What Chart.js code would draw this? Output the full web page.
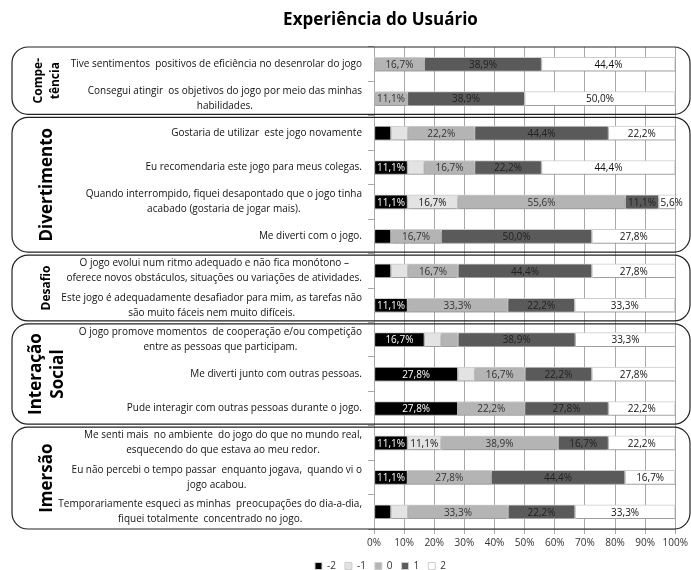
<!DOCTYPE html>
<html>
<head>
<meta charset="utf-8">
<script src="https://cdn.jsdelivr.net/npm/chart.js@4.4.1/dist/chart.umd.min.js"></script>
<style>
  body { margin: 0; background: #fff; }
  #wrap { width: 691px; height: 570px; }
</style>
</head>
<body>
<div id="wrap"><canvas id="chart" width="691" height="570"></canvas></div>
<script>
// perguntas (eixo y)
const categories = [
  ['Tive sentimentos  positivos de eficiência no desenrolar do jogo'],
  ['Consegui atingir  os objetivos do jogo por meio das minhas', 'habilidades.'],
  ['Gostaria de utilizar  este jogo novamente'],
  ['Eu recomendaria este jogo para meus colegas.'],
  ['Quando interrompido, fiquei desapontado que o jogo tinha', 'acabado (gostaria de jogar mais).'],
  ['Me diverti com o jogo.'],
  ['O jogo evolui num ritmo adequado e não fica monótono –', 'oferece novos obstáculos, situações ou variações de atividades.'],
  ['Este jogo é adequadamente desafiador para mim, as tarefas não', 'são muito fáceis nem muito difíceis.'],
  ['O jogo promove momentos  de cooperação e/ou competição', 'entre as pessoas que participam.'],
  ['Me diverti junto com outras pessoas.'],
  ['Pude interagir com outras pessoas durante o jogo.'],
  ['Me senti mais  no ambiente  do jogo do que no mundo real,', 'esquecendo do que estava ao meu redor.'],
  ['Eu não percebi o tempo passar  enquanto jogava,  quando vi o', 'jogo acabou.'],
  ['Temporariamente esqueci as minhas  preocupações do dia-a-dia,', 'fiquei totalmente  concentrado no jogo.']
];

// grupos (caixas à esquerda)
const groupNames = [['Compe-', 'tência'], ['Divertimento'], ['Desafio'], ['Interação', 'Social'], ['Imersão']];
const groupSizes = [2, 4, 2, 3, 3];

// séries (%)
const seriesNames = ['-2', '-1', '0', '1', '2'];
const serieM2 = [0, 0, 5.6, 11.1, 11.1, 5.6, 5.6, 11.1, 16.7, 27.8, 27.8, 11.1, 11.1, 5.6];
const serieM1 = [0, 0, 5.6, 5.6, 16.7, 0, 5.6, 0, 5.6, 5.6, 0, 11.1, 0, 5.6];
const serie0  = [16.7, 11.1, 22.2, 16.7, 55.6, 16.7, 16.7, 33.3, 5.6, 16.7, 22.2, 38.9, 27.8, 33.3];
const serie1  = [38.9, 38.9, 44.4, 22.2, 11.1, 50.0, 44.4, 22.2, 38.9, 22.2, 27.8, 16.7, 44.4, 22.2];
const serie2  = [44.4, 50.0, 22.2, 44.4, 5.6, 27.8, 27.8, 33.3, 33.3, 27.8, 22.2, 22.2, 16.7, 33.3];
const xTicks = [0, 10, 20, 30, 40, 50, 60, 70, 80, 90, 100];

const fills = ['#000000', '#e3e3e3', '#b4b4b4', '#5a5a5a', '#ffffff'];
const textColors = ['#ffffff', '#111111', '#333333', '#222222', '#111111'];
const sans = '"Open Sans", "Noto Sans", sans-serif';

const allSeries = [serieM2, serieM1, serie0, serie1, serie2];
const datasets = allSeries.map((s, i) => ({
  label: seriesNames[i],
  data: s,
  backgroundColor: fills[i],
  borderColor: '#cdcdcd',
  borderWidth: 1,
  borderSkipped: false,
  barThickness: 14
}));

// borda entre duas linhas
function boundary(y, i) {
  if (i <= 0) return y.top;
  if (i >= categories.length) return y.bottom;
  return (y.getPixelForValue(i - 1) + y.getPixelForValue(i)) / 2;
}

const decorPlugin = {
  id: 'decor',
  beforeDatasetsDraw(chart) {
    const ctx = chart.ctx;
    ctx.save();
    ctx.shadowColor = 'rgba(0,0,0,0.25)';
    ctx.shadowOffsetY = 2;
    ctx.shadowBlur = 2;
  },
  afterDatasetsDraw(chart) {
    const ctx = chart.ctx;
    ctx.restore();
    // rótulos dos valores
    ctx.save();
    ctx.font = '10px ' + sans;
    ctx.textAlign = 'center';
    ctx.textBaseline = 'middle';
    chart.data.datasets.forEach((ds, di) => {
      chart.getDatasetMeta(di).data.forEach((bar, i) => {
        const v = ds.data[i];
        if (!(v >= 10 || (di === 4 && v > 0))) return;
        ctx.fillStyle = textColors[di];
        const txt = v.toFixed(1).replace('.', ',') + '%';
        // o rótulo pequeno fica logo depois do fim da barra anterior
        const cx = v < 10 ? bar.base + 13 : (bar.x + bar.base) / 2;
        ctx.fillText(txt, cx, bar.y + 1);
      });
    });
    ctx.restore();
  },
  afterDraw(chart) {
    const ctx = chart.ctx;
    const y = chart.scales.y;
    ctx.save();
    // perguntas
    ctx.font = '10px ' + sans;
    ctx.fillStyle = '#111';
    ctx.textAlign = 'center';
    ctx.textBaseline = 'middle';
    const right = chart.chartArea.left - 12;
    categories.forEach((lines, i) => {
      const w = Math.max(...lines.map(l => ctx.measureText(l).width));
      const cx = right - w / 2;
      const cy = y.getPixelForValue(i);
      lines.forEach((l, k) => {
        ctx.fillText(l, cx, cy + (k - (lines.length - 1) / 2) * 15);
      });
    });
    // caixas dos grupos
    let start = 0;
    groupSizes.forEach((n, g) => {
      let top = boundary(y, start);
      let bot = boundary(y, start + n);
      if (start > 0) top += 1.5;
      if (start + n < categories.length) bot -= 1.5;
      ctx.strokeStyle = '#222';
      ctx.lineWidth = 1.2;
      ctx.beginPath();
      ctx.roundRect(12, top, 678, bot - top, 16);
      ctx.stroke();
      // nome do grupo (vertical)
      const names = groupNames[g];
      const size = n === 2 ? 12 : 17;
      const lh = n === 2 ? 17 : 22;
      ctx.save();
      ctx.translate(47, (top + bot) / 2);
      ctx.rotate(-Math.PI / 2);
      ctx.font = 'bold ' + size + 'px ' + sans;
      ctx.fillStyle = '#000';
      names.forEach((t, k) => {
        ctx.fillText(t, 0, (k - (names.length - 1) / 2) * lh);
      });
      ctx.restore();
      start += n;
    });
    ctx.restore();
  }
};

new Chart(document.getElementById('chart'), {
  type: 'bar',
  data: { labels: categories, datasets: datasets },
  options: {
    indexAxis: 'y',
    responsive: false,
    animation: false,
    layout: { padding: { left: 70, right: 0, top: 0, bottom: 0 } },
    scales: {
      x: {
        stacked: true,
        min: 0,
        max: 100,
        afterBuildTicks: (s) => { s.ticks = xTicks.map(v => ({ value: v })); },
        ticks: {
          callback: (v) => v + '%',
          color: '#333',
          font: { size: 10, family: sans },
          padding: 3,
          maxRotation: 0
        },
        grid: { color: '#a8a8a8', tickLength: 5 },
        border: { color: '#a8a8a8' }
      },
      y: {
        stacked: true,
        ticks: { display: false },
        grid: { drawOnChartArea: false, color: '#a8a8a8', tickLength: 6, offset: true },
        border: { color: '#a8a8a8' },
        afterFit: (s) => { s.width = 304; }
      }
    },
    plugins: {
      title: {
        display: true,
        text: 'Experiência do Usuário',
        color: '#000',
        font: { family: sans, size: 17, weight: 'bold' },
        padding: { top: 10, bottom: 16.6 }
      },
      legend: {
        position: 'bottom',
        maxHeight: 18,
        labels: {
          boxWidth: 7,
          boxHeight: 7,
          padding: 9,
          color: '#333',
          font: { size: 10, family: sans }
        }
      },
      tooltip: { enabled: false }
    }
  },
  plugins: [decorPlugin]
});
</script>
</body>
</html>
